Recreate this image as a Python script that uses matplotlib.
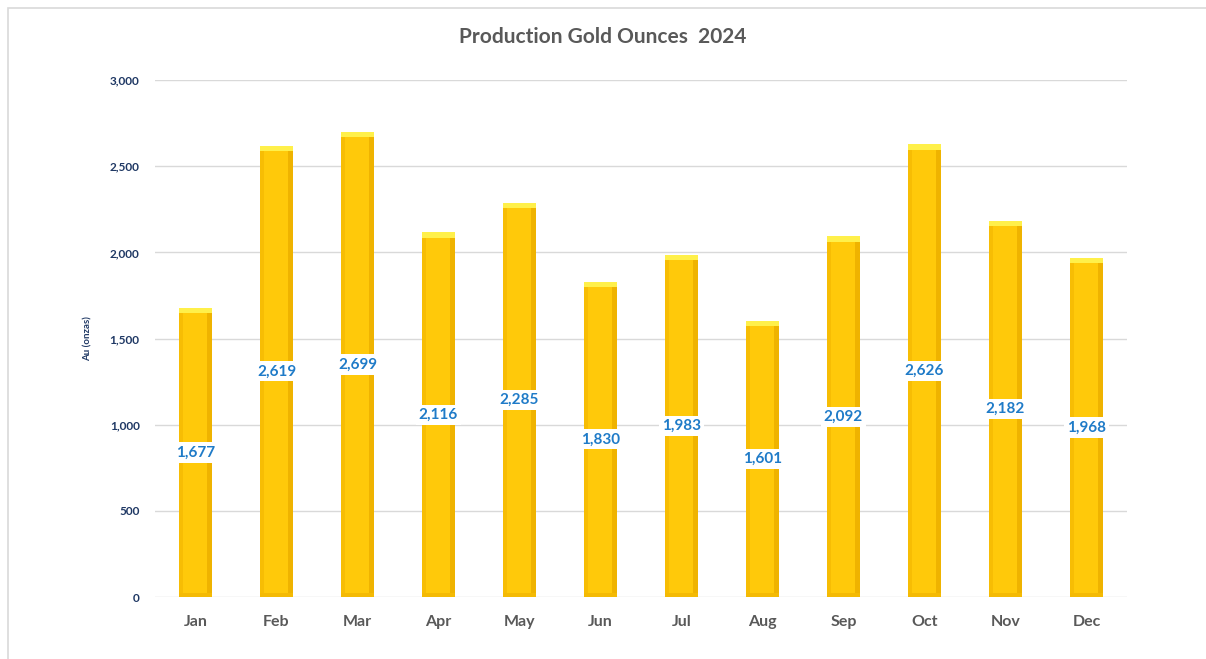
import matplotlib.pyplot as plt
from matplotlib.patches import Rectangle

months = ['Jan', 'Feb', 'Mar', 'Apr', 'May', 'Jun', 'Jul', 'Aug', 'Sep', 'Oct', 'Nov', 'Dec']
ounces = [1677, 2619, 2699, 2116, 2285, 1830, 1983, 1601, 2092, 2626, 2182, 1968]
yticks = [0, 500, 1000, 1500, 2000, 2500, 3000]

plt.rcParams['font.family'] = ['Lato', 'DejaVu Sans']

fig = plt.figure(figsize=(12.06, 6.59), dpi=100)
fig.patches.append(Rectangle((0.007, -0.01), 1.0, 0.998, transform=fig.transFigure,
                             facecolor='none', edgecolor='#d9d9d9', linewidth=1.2))
ax = fig.add_axes([0.1285, 0.094, 0.806, 0.7846])

x = list(range(len(months)))
w = 0.40
# main bar body
ax.bar(x, ounces, width=w, color='#ffc90a', zorder=2)
# darker right bevel
ax.bar([i + w * 0.5 - w * 0.065 for i in x], ounces, width=w * 0.13, color='#efb300', zorder=2)
# slightly darker left bevel
ax.bar([i - w * 0.5 + w * 0.05 for i in x], ounces, width=w * 0.10, color='#f7bd04', zorder=2)
# darker bottom bevel
ax.bar(x, [25] * len(x), width=w, color='#f4ba04', zorder=2)
# light top cap
ax.bar(x, [30] * len(x), bottom=[v - 30 for v in ounces], width=w, color='#fff04a', zorder=3)

for i, v in zip(x, ounces):
    ax.text(i, v / 2, f'{v:,}', ha='center', va='center', fontsize=11, fontweight='bold',
            color='#1f7bc8', zorder=4,
            bbox=dict(boxstyle='square,pad=0.2', facecolor='white', edgecolor='none'))

ax.set_xlim(-0.5, 11.5)
ax.set_ylim(0, 3000)
ax.set_yticks(yticks)
ax.set_yticklabels([f'{t:,}' for t in yticks], fontsize=8.5, fontweight='bold', color='#1f3864')
ax.set_xticks(x)
ax.set_xticklabels(months, fontsize=11.5, fontweight='bold', color='#595959')
ax.tick_params(axis='both', length=0)
ax.tick_params(axis='y', pad=11)
ax.tick_params(axis='x', pad=13)
ax.grid(axis='y', color='#d9d9d9', linewidth=1, zorder=0)
for s in ax.spines.values():
    s.set_visible(False)

ax.set_ylabel('Au (onzas)', fontsize=7, fontweight='bold', color='#1f3864', labelpad=12)
fig.text(0.5, 0.944, 'Production Gold Ounces  2024', ha='center', va='center',
         fontsize=15, fontweight='bold', color='#595959')

fig.savefig('out.png', dpi=100)
